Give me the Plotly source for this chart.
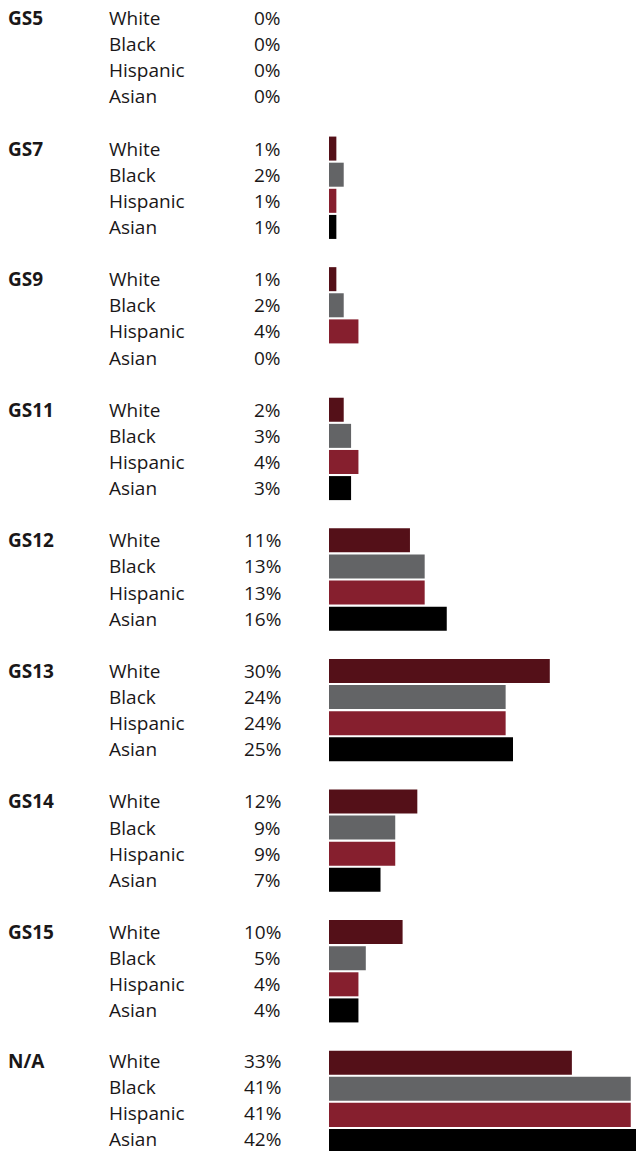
import plotly.graph_objects as go

GRADES = ["GS5", "GS7", "GS9", "GS11", "GS12", "GS13", "GS14", "GS15", "N/A"]
RACES = ["White", "Black", "Hispanic", "Asian"]
COLORS = ["#541018", "#636466", "#861F2E", "#000000"]

WHITE = [0, 1, 1, 2, 11, 30, 12, 10, 33]
BLACK = [0, 2, 2, 3, 13, 24, 9, 5, 41]
HISPANIC = [0, 1, 4, 4, 13, 24, 9, 4, 41]
ASIAN = [0, 1, 0, 3, 16, 25, 7, 4, 42]
SERIES = [WHITE, BLACK, HISPANIC, ASIAN]

INK = "#1A1718"
FONT = "'Open Sans', 'Noto Sans', sans-serif"
W, H = 636, 1151
SLOT = 5  # 4 rows + one blank row per grade
SIZE = 19

fig = go.Figure()
for r, (race, vals) in enumerate(zip(RACES, SERIES)):
    ys = [g * SLOT + r for g in range(len(GRADES))]
    fig.add_bar(x=vals, y=ys, orientation="h", width=0.92, name=race,
                marker=dict(color=COLORS[r], line=dict(width=0)),
                hoverinfo="x")

ann = []
last_group = len(GRADES) - 1
for g, grade in enumerate(GRADES):
    # nudge the bottom group's text up a touch so it stays inside the page
    shift = 2 if g == last_group else 0
    ann.append(dict(x=7 / W, y=g * SLOT, xref="paper", yref="y", text=f"<b>{grade}</b>",
                    showarrow=False, xanchor="left", yanchor="middle", yshift=shift,
                    borderpad=0, font=dict(family=FONT, size=SIZE, color=INK)))
    for r, race in enumerate(RACES):
        y = g * SLOT + r
        ann.append(dict(x=108 / W, y=y, xref="paper", yref="y", text=race,
                        showarrow=False, xanchor="left", yanchor="middle", yshift=shift,
                        borderpad=0, font=dict(family=FONT, size=SIZE, color=INK)))
        ann.append(dict(x=282 / W, y=y, xref="paper", yref="y",
                        text=f"{SERIES[r][g]}%", yshift=shift,
                        showarrow=False, xanchor="right", yanchor="middle",
                        borderpad=0, font=dict(family=FONT, size=SIZE, color=INK)))

px_x = 7.36
px_y = 26.12
last_row = last_group * SLOT + 3
fig.update_layout(
    width=W, height=H,
    margin=dict(l=0, r=0, t=0, b=0),
    paper_bgcolor="white", plot_bgcolor="white",
    showlegend=False, barmode="overlay",
    annotations=ann,
    xaxis=dict(range=[-329 / px_x, (W - 329) / px_x], visible=False, fixedrange=True),
    yaxis=dict(range=[last_row + (H - 1141) / px_y, -18 / px_y], visible=False, fixedrange=True),
)

# drop the browser's default body margin so the figure sits at the page corner
fig.write_html("out.html", config={"displayModeBar": False},
               post_script="document.body.style.margin='0';document.body.style.overflow='hidden';")
